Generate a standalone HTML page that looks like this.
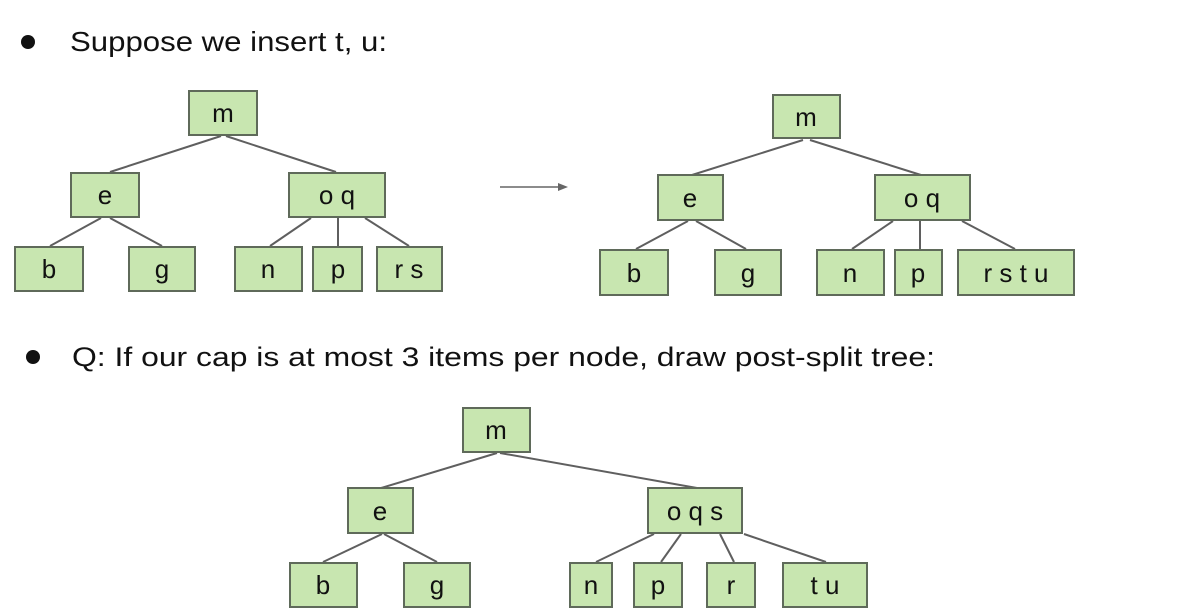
<!DOCTYPE html>
<html><head><meta charset="utf-8"><style>
html,body{margin:0;padding:0;background:#fff;}
svg{display:block;}
text{font-family:"Liberation Sans",sans-serif;}
.n{fill:#c8e6b0;stroke:#5f6a5a;stroke-width:2;}
.l{stroke:#5f5f5f;stroke-width:2;}
.t{font-size:26px;fill:#111;text-anchor:middle;}
</style></head><body>
<svg width="1185" height="612" viewBox="0 0 1185 612" xmlns="http://www.w3.org/2000/svg">
<circle cx="28" cy="42" r="7" fill="#111"/>
<text x="70" y="51" font-size="28" fill="#111" textLength="317" lengthAdjust="spacingAndGlyphs">Suppose we insert t, u:</text>
<circle cx="33" cy="357" r="7" fill="#111"/>
<text x="72" y="366" font-size="27" fill="#111" textLength="863" lengthAdjust="spacingAndGlyphs">Q: If our cap is at most 3 items per node, draw post-split tree:</text>

<!-- tree 1 -->
<g>
<line class="l" x1="221" y1="136" x2="110" y2="172"/>
<line class="l" x1="226" y1="136" x2="336" y2="172"/>
<line class="l" x1="101" y1="218" x2="50" y2="246"/>
<line class="l" x1="110" y1="218" x2="162" y2="246"/>
<line class="l" x1="311" y1="218" x2="270" y2="246"/>
<line class="l" x1="338" y1="218" x2="338" y2="246"/>
<line class="l" x1="365" y1="218" x2="409" y2="246"/>
<rect class="n" x="189" y="91" width="68" height="44"/><text class="t" x="223" y="122">m</text>
<rect class="n" x="71" y="173" width="68" height="44"/><text class="t" x="105" y="204">e</text>
<rect class="n" x="289" y="173" width="96" height="44"/><text class="t" x="337" y="204">o q</text>
<rect class="n" x="15" y="247" width="68" height="44"/><text class="t" x="49" y="278">b</text>
<rect class="n" x="129" y="247" width="66" height="44"/><text class="t" x="162" y="278">g</text>
<rect class="n" x="235" y="247" width="67" height="44"/><text class="t" x="268" y="278">n</text>
<rect class="n" x="313" y="247" width="49" height="44"/><text class="t" x="338" y="278">p</text>
<rect class="n" x="377" y="247" width="65" height="44"/><text class="t" x="409" y="278">r s</text>
</g>

<!-- arrow -->
<line x1="500" y1="187" x2="560" y2="187" stroke="#666" stroke-width="1.5"/>
<polygon points="568,187 558,183 558,191" fill="#666"/>

<!-- tree 2 -->
<g>
<line class="l" x1="803" y1="140" x2="692" y2="175"/>
<line class="l" x1="810" y1="140" x2="921" y2="175"/>
<line class="l" x1="688" y1="221" x2="636" y2="249"/>
<line class="l" x1="696" y1="221" x2="746" y2="249"/>
<line class="l" x1="893" y1="221" x2="852" y2="249"/>
<line class="l" x1="920" y1="221" x2="920" y2="249"/>
<line class="l" x1="962" y1="221" x2="1015" y2="249"/>
<rect class="n" x="773" y="95" width="67" height="43"/><text class="t" x="806" y="126">m</text>
<rect class="n" x="658" y="175" width="65" height="45"/><text class="t" x="690" y="207">e</text>
<rect class="n" x="875" y="175" width="95" height="45"/><text class="t" x="922" y="207">o q</text>
<rect class="n" x="600" y="250" width="68" height="45"/><text class="t" x="634" y="282">b</text>
<rect class="n" x="715" y="250" width="66" height="45"/><text class="t" x="748" y="282">g</text>
<rect class="n" x="817" y="250" width="67" height="45"/><text class="t" x="850" y="282">n</text>
<rect class="n" x="895" y="250" width="47" height="45"/><text class="t" x="918" y="282">p</text>
<rect class="n" x="958" y="250" width="116" height="45"/><text class="t" x="1016" y="282">r s t u</text>
</g>

<!-- tree 3 -->
<g>
<line class="l" x1="497" y1="453" x2="381" y2="488"/>
<line class="l" x1="500" y1="453" x2="697" y2="488"/>
<line class="l" x1="382" y1="534" x2="323" y2="562"/>
<line class="l" x1="384" y1="534" x2="437" y2="562"/>
<line class="l" x1="654" y1="534" x2="596" y2="562"/>
<line class="l" x1="681" y1="534" x2="661" y2="562"/>
<line class="l" x1="720" y1="534" x2="734" y2="562"/>
<line class="l" x1="744" y1="534" x2="826" y2="562"/>
<rect class="n" x="463" y="408" width="67" height="44"/><text class="t" x="496" y="439">m</text>
<rect class="n" x="348" y="488" width="65" height="45"/><text class="t" x="380" y="520">e</text>
<rect class="n" x="648" y="488" width="94" height="45"/><text class="t" x="695" y="520">o q s</text>
<rect class="n" x="290" y="563" width="67" height="44"/><text class="t" x="323" y="594">b</text>
<rect class="n" x="404" y="563" width="66" height="44"/><text class="t" x="437" y="594">g</text>
<rect class="n" x="570" y="563" width="42" height="44"/><text class="t" x="591" y="594">n</text>
<rect class="n" x="634" y="563" width="48" height="44"/><text class="t" x="658" y="594">p</text>
<rect class="n" x="707" y="563" width="48" height="44"/><text class="t" x="731" y="594">r</text>
<rect class="n" x="783" y="563" width="84" height="44"/><text class="t" x="825" y="594">t u</text>
</g>
</svg>
</body></html>
